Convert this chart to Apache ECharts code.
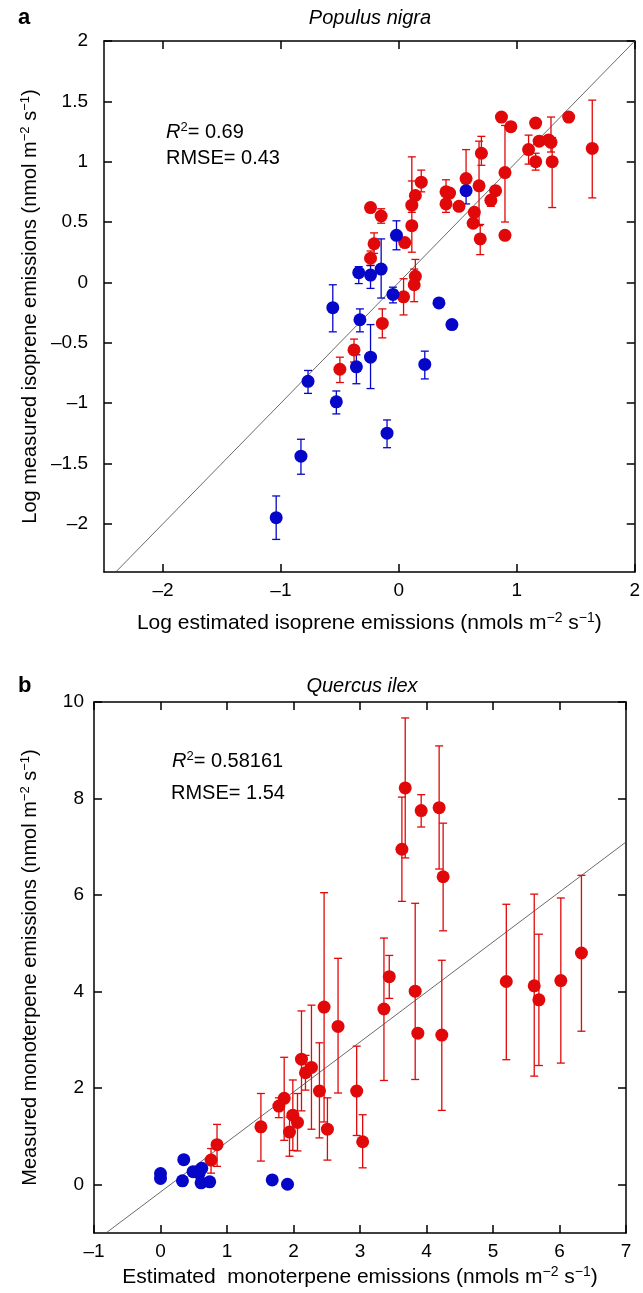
<!DOCTYPE html>
<html>
<head>
<meta charset="utf-8">
<script src="https://cdn.jsdelivr.net/npm/echarts@6/dist/echarts.min.js"></script>
<style>
html, body { margin: 0; padding: 0; background: #fff; }
#chart { width: 643px; height: 1293px; }
</style>
</head>
<body>
<div id="chart"></div>
<script>
var FONT = 'Liberation Sans';
var RED = '#e00808';
var BLUE = '#0606c8';

// ---- panel a : Populus nigra (log scale)  [x, y, low, high] ----
var aRed = [
    [0.87, 1.37, null, null], [0.95, 1.29, null, null], [1.16, 1.32, null, null],
    [1.44, 1.37, null, null], [1.64, 1.11, 0.70, 1.51], [1.10, 1.10, 0.98, 1.22],
    [1.19, 1.17, null, null], [1.27, 1.18, null, null], [1.29, 1.16, 1.08, 1.37],
    [1.30, 1.00, 0.62, 1.20], [1.16, 1.00, 0.93, 1.07], [0.90, 0.91, 0.50, 1.30],
    [0.82, 0.76, null, null], [0.78, 0.68, 0.63, 0.72], [0.90, 0.39, null, null],
    [0.70, 1.07, 0.97, 1.21], [0.68, 0.80, 0.47, 1.17], [0.64, 0.58, null, null],
    [0.63, 0.49, null, null], [0.69, 0.36, 0.23, 0.48], [0.57, 0.86, 0.76, 1.10],
    [0.40, 0.75, 0.68, 0.85], [0.43, 0.74, null, null], [0.40, 0.65, 0.58, 0.72],
    [0.51, 0.63, null, null], [0.19, 0.83, 0.75, 0.93], [0.14, 0.72, null, null],
    [0.11, 0.64, 0.58, 0.84], [0.11, 0.47, 0.25, 1.04], [0.14, 0.05, -0.05, 0.19],
    [0.13, -0.02, -0.16, 0.11], [0.04, -0.12, -0.27, 0.03], [0.05, 0.33, null, null],
    [-0.24, 0.62, null, null], [-0.15, 0.55, 0.49, 0.61], [-0.21, 0.32, 0.24, 0.41],
    [-0.24, 0.20, 0.14, 0.26], [-0.14, -0.34, -0.46, -0.22], [-0.38, -0.56, -0.66, -0.47],
    [-0.50, -0.72, -0.83, -0.62]
];
var aBlue = [
    [0.57, 0.76, 0.65, 0.76], [-0.02, 0.39, 0.27, 0.51], [-0.15, 0.11, -0.13, 0.36],
    [-0.24, 0.06, -0.05, 0.14], [-0.34, 0.08, -0.01, 0.13], [-0.05, -0.10, -0.17, -0.04],
    [0.34, -0.17, null, null], [0.45, -0.35, null, null], [-0.56, -0.21, -0.41, -0.02],
    [-0.33, -0.31, -0.41, -0.22], [-0.36, -0.70, -0.84, -0.60], [-0.24, -0.62, -0.88, -0.35],
    [0.22, -0.68, -0.80, -0.57], [-0.77, -0.82, -0.92, -0.73], [-0.53, -0.99, -1.09, -0.90],
    [-0.83, -1.44, -1.59, -1.30], [-1.04, -1.95, -2.13, -1.77], [-0.10, -1.25, -1.37, -1.14]
];
var aLine = [[-2.4, -2.4], [2, 2]];
var aXTicks = [-2, -1, 0, 1, 2];
var aYTicks = [-2, -1.5, -1, -0.5, 0, 0.5, 1, 1.5, 2];

// ---- panel b : Quercus ilex ----
var bRed = [
    [0.76, 0.51, 0.24, 0.75], [0.85, 0.83, 0.38, 1.25], [1.51, 1.20, 0.49, 1.89],
    [1.78, 1.63, 1.39, 1.80], [1.86, 1.79, 0.92, 2.64], [1.94, 1.09, 0.59, 1.40],
    [1.99, 1.44, 0.71, 2.17], [2.06, 1.29, 0.70, 1.89], [2.12, 2.60, 1.53, 3.60],
    [2.18, 2.32, 1.96, 2.68], [2.27, 2.43, 1.15, 3.72], [2.39, 1.94, 0.97, 2.94],
    [2.51, 1.15, 0.51, 1.80], [2.46, 3.68, 1.30, 6.05], [2.67, 3.28, 1.90, 4.69],
    [2.95, 1.94, 1.02, 2.87], [3.04, 0.89, 0.35, 1.45], [3.44, 4.31, 3.86, 4.75],
    [3.36, 3.64, 2.16, 5.11], [3.83, 4.01, 2.18, 5.83], [3.87, 3.14, null, null],
    [4.23, 3.10, 1.54, 4.65], [5.20, 4.21, 2.59, 5.81], [5.62, 4.12, 2.25, 6.02],
    [5.69, 3.83, 2.47, 5.19], [6.02, 4.23, 2.52, 5.94], [6.33, 4.80, 3.18, 6.41],
    [3.68, 8.22, 6.77, 9.67], [3.63, 6.95, 5.87, 8.03], [3.92, 7.75, 7.41, 8.08],
    [4.19, 7.81, 6.54, 9.09], [4.25, 6.38, 5.26, 7.49]
];
var bBlue = [
    [0, 0.23], [0, 0.13], [0.35, 0.52], [0.33, 0.08], [0.49, 0.27], [0.62, 0.34],
    [0.58, 0.24], [0.61, 0.04], [0.74, 0.06], [1.68, 0.10], [1.91, 0.01]
];
var bLine = [[-0.82, -1], [7, 7.1]];
var bXTicks = [-1, 0, 1, 2, 3, 4, 5, 6, 7];
var bYTicks = [0, 2, 4, 6, 8, 10];

function richFor(size) {
    return {
        n: { fontSize: size, fontFamily: FONT, color: '#000', lineHeight: size + 3 },
        s: { fontSize: Math.round(size * 0.66), fontFamily: FONT, color: '#000', verticalAlign: 'top', lineHeight: Math.round(size * 0.66) }
    };
}

function fmt(v) {
    return String(v).replace('-', '–');
}

function makeAxis(pos, grid, min, max, ticks, show, name, nameGap, margin, nameSize) {
    return {
        type: 'value', gridIndex: grid, position: pos, min: min, max: max,
        name: show ? name : '', nameLocation: 'middle', nameGap: nameGap,
        nameTextStyle: { rich: richFor(nameSize || 20) },
        axisLine: { onZero: false, lineStyle: { color: '#000', width: 1.5 } },
        axisTick: { inside: true, length: 8, customValues: ticks, lineStyle: { color: '#000', width: 1.5 } },
        axisLabel: {
            show: show, customValues: ticks, formatter: fmt, margin: margin,
            fontSize: 19, fontFamily: FONT, color: '#000'
        },
        splitLine: { show: false }
    };
}

function errSeries(data, color, xi, yi) {
    var d = data.filter(function (p) { return p[2] != null; })
        .map(function (p) { return [p[0], p[2], p[3]]; });
    return {
        type: 'custom', xAxisIndex: xi, yAxisIndex: yi, data: d, silent: true, z: 2,
        encode: { x: 0, y: [1, 2] },
        renderItem: function (params, api) {
            var x = api.value(0);
            var p1 = api.coord([x, api.value(1)]);
            var p2 = api.coord([x, api.value(2)]);
            var c = 4;
            var st = { stroke: color, lineWidth: 1.3 };
            return {
                type: 'group', children: [
                    { type: 'line', shape: { x1: p1[0], y1: p1[1], x2: p2[0], y2: p2[1] }, style: st },
                    { type: 'line', shape: { x1: p1[0] - c, y1: p1[1], x2: p1[0] + c, y2: p1[1] }, style: st },
                    { type: 'line', shape: { x1: p2[0] - c, y1: p2[1], x2: p2[0] + c, y2: p2[1] }, style: st }
                ]
            };
        }
    };
}

function dots(data, color, xi, yi) {
    return {
        type: 'scatter', xAxisIndex: xi, yAxisIndex: yi, symbolSize: 13, z: 3,
        itemStyle: { color: color, opacity: 1 },
        data: data.map(function (p) { return [p[0], p[1]]; })
    };
}

function refLine(data, xi, yi) {
    return {
        type: 'line', xAxisIndex: xi, yAxisIndex: yi, data: data, symbol: 'none', z: 1,
        silent: true, lineStyle: { color: '#444', width: 0.8 }
    };
}

function txt(x, y, text, extra) {
    var st = { text: text, x: 0, y: 0, fill: '#000', fontSize: 20, fontFamily: FONT, verticalAlign: 'middle', align: 'left' };
    for (var k in extra) st[k] = extra[k];
    return { type: 'text', x: x, y: y, style: st };
}

var annRich = {
    i: { fontSize: 20, fontFamily: FONT, fontStyle: 'italic', color: '#000', lineHeight: 22 },
    n: { fontSize: 20, fontFamily: FONT, color: '#000', lineHeight: 22 },
    s: { fontSize: 13, fontFamily: FONT, color: '#000', verticalAlign: 'top', lineHeight: 13 }
};

var unitX = ' (nmols m}{s|−2}{n| s}{s|−1}{n|)}';
var unitY = ' (nmol m}{s|−2}{n| s}{s|−1}{n|)}';

var chart = echarts.init(document.getElementById('chart'));
chart.setOption({
    backgroundColor: '#fff',
    animation: false,
    grid: [
        { left: 104, top: 41, width: 532, height: 531 },
        { left: 94, top: 702, width: 532, height: 531 }
    ],
    xAxis: [
        makeAxis('bottom', 0, -2.5, 2, aXTicks, true,
            '{n|Log estimated isoprene emissions' + unitX, 39, 9, 21),
        makeAxis('top', 0, -2.5, 2, aXTicks, false),
        makeAxis('bottom', 1, -1, 7, bXTicks, true,
            '{n|Estimated  monoterpene emissions' + unitX, 32, 9, 21),
        makeAxis('top', 1, -1, 7, bXTicks, false)
    ],
    yAxis: [
        makeAxis('left', 0, -2.4, 2, aYTicks, true,
            '{n|Log measured isoprene emissions' + unitY, 60, 16, 20),
        makeAxis('right', 0, -2.4, 2, aYTicks, false),
        makeAxis('left', 1, -1, 10, bYTicks, true,
            '{n|Measured monoterpene emissions' + unitY, 52, 10, 20),
        makeAxis('right', 1, -1, 10, bYTicks, false)
    ],
    series: [
        refLine(aLine, 0, 0),
        errSeries(aRed, RED, 0, 0),
        errSeries(aBlue, BLUE, 0, 0),
        dots(aRed, RED, 0, 0),
        dots(aBlue, BLUE, 0, 0),
        refLine(bLine, 2, 2),
        errSeries(bRed, RED, 2, 2),
        dots(bRed, RED, 2, 2),
        dots(bBlue, BLUE, 2, 2)
    ],
    graphic: [
        txt(18, 18, 'a', { fontWeight: 'bold', fontSize: 22 }),
        txt(370, 18, 'Populus nigra', { fontStyle: 'italic', align: 'center' }),
        txt(166, 132, '{i|R}{s|2}{n|= 0.69}', { rich: annRich }),
        txt(166, 158, 'RMSE= 0.43'),
        txt(18, 686, 'b', { fontWeight: 'bold', fontSize: 22 }),
        txt(362, 686, 'Quercus ilex', { fontStyle: 'italic', align: 'center' }),
        txt(172, 761, '{i|R}{s|2}{n|= 0.58161}', { rich: annRich }),
        txt(171, 793, 'RMSE= 1.54')
    ]
});
</script>
</body>
</html>
